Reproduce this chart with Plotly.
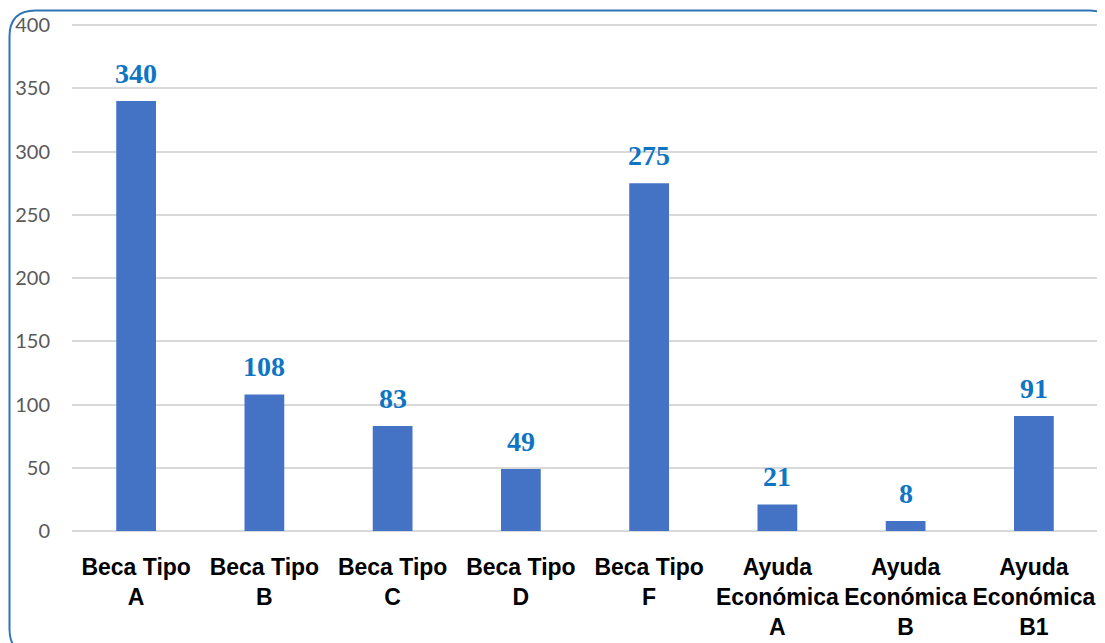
import plotly.graph_objects as go

categories = ["Beca Tipo<br>A", "Beca Tipo<br>B", "Beca Tipo<br>C", "Beca Tipo<br>D",
              "Beca Tipo<br>F", "Ayuda<br>Económica<br>A", "Ayuda<br>Económica<br>B",
              "Ayuda<br>Económica<br>B1"]
values = [340, 108, 83, 49, 275, 21, 8, 91]
y_ticks = [0, 50, 100, 150, 200, 250, 300, 350, 400]

W, H = 1105, 643
OFF = 8  # page body margin offset
ML, MR, MT, MB = 64, 15, 16, 120
pw, ph = W - ML - MR, H - MT - MB

fig = go.Figure()
fig.add_trace(go.Bar(x=categories, y=values, marker=dict(color="#4472C4", line=dict(width=0)),
                     width=0.31, hoverinfo="x+y"))

for c, v in zip(categories, values):
    fig.add_annotation(x=c, y=v, text=f"<b>{v}</b>", showarrow=False, yanchor="bottom",
                       yshift=10, font=dict(family="Liberation Serif", size=28, color="#0F75C3"))

def px(x):
    return (x - OFF - ML) / pw

def py(y):
    return (H - MB - (y - OFF)) / ph

# rounded border (window coordinates)
L, T, R, B, r = 9.5, 10.5, 1115, 655, 26
pts = (f"M {px(L)},{py(T + r)} Q {px(L)},{py(T)} {px(L + r)},{py(T)} "
       f"L {px(R - r)},{py(T)} Q {px(R)},{py(T)} {px(R)},{py(T + r)} "
       f"L {px(R)},{py(B - r)} Q {px(R)},{py(B)} {px(R - r)},{py(B)} "
       f"L {px(L + r)},{py(B)} Q {px(L)},{py(B)} {px(L)},{py(B - r)} Z")
fig.add_shape(type="path", path=pts, xref="paper", yref="paper",
              line=dict(color="#2E75B6", width=2), layer="above")

fig.update_layout(
    width=W, height=H,
    margin=dict(l=ML, r=MR, t=MT, b=MB, autoexpand=False),
    plot_bgcolor="white", paper_bgcolor="white",
    showlegend=False,
    bargap=0.69,
    xaxis=dict(showgrid=False, showline=False, zeroline=False, ticks="", automargin=False,
               tickfont=dict(family="Liberation Sans", size=23, color="#000000", weight="bold"),
               ticklabelstandoff=20),
    yaxis=dict(range=[0, 401], tickvals=y_ticks, showgrid=True, gridcolor="#D9D9D9", gridwidth=1.5,
               zeroline=True, zerolinecolor="#D9D9D9", zerolinewidth=1.5, showline=False,
               automargin=False,
               tickfont=dict(family="Lato", size=20, color="#595959"),
               ticklabelstandoff=21),
)

fig.write_html("out.html")
